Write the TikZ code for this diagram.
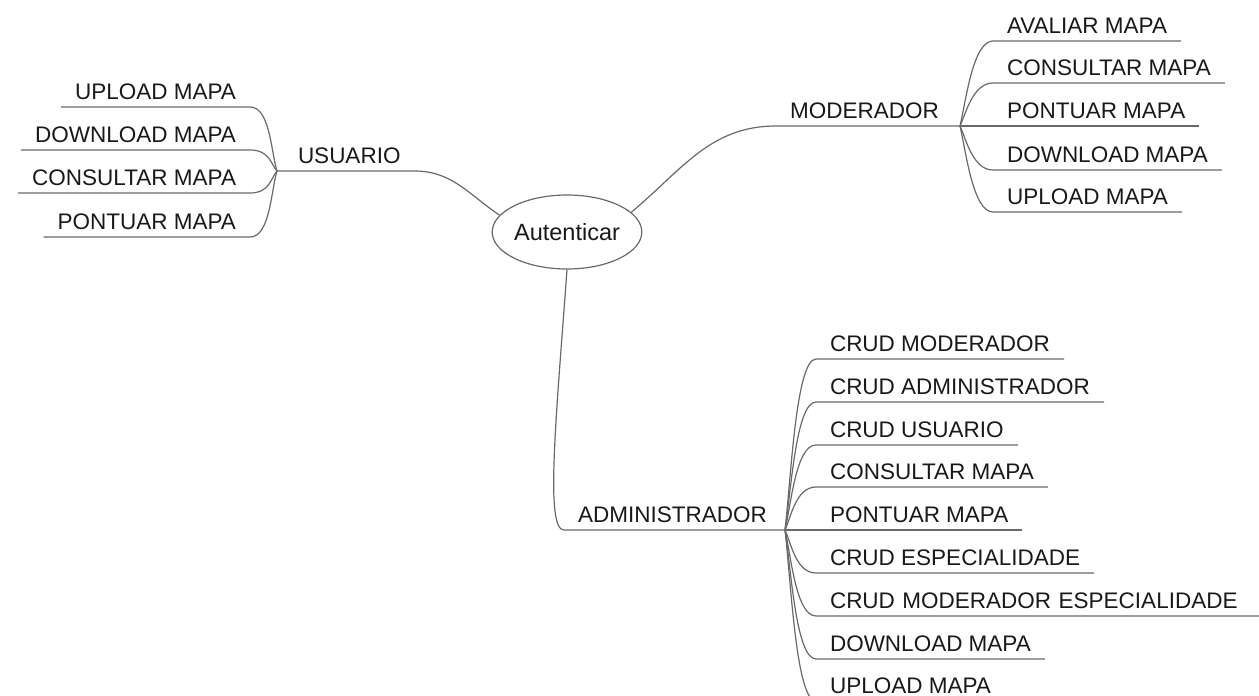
\documentclass[tikz,border=0pt]{standalone}
\usepackage{fontspec}
\setmainfont{Liberation Sans}
\usetikzlibrary{shapes.geometric,calc}
\definecolor{edgegray}{RGB}{105,105,105}
\definecolor{inkdark}{RGB}{25,25,25}
\tikzset{
  txt/.style={font=\fontsize{22.5}{27}\selectfont, text=inkdark},
  leaf/.style={txt, inner xsep=14pt, inner ysep=7.5pt, text depth=0pt, outer sep=0pt},
  link/.style={draw=edgegray, line width=1.2pt},
  rbranch/.style={to path={.. controls ($(\tikztostart)!0.3!(\tikztostart|-\tikztotarget)+(6,0)$) and ($(\tikztotarget)+(-20,0)$) .. (\tikztotarget)}},
  lbranch/.style={to path={.. controls ($(\tikztostart)!0.3!(\tikztostart|-\tikztotarget)+(-6,0)$) and ($(\tikztotarget)+(20,0)$) .. (\tikztotarget)}},
}
\begin{document}
\begin{tikzpicture}[x=1pt,y=-1pt]
\clip (0,0) rectangle (1259,696);
\fill[white] (0,0) rectangle (1259,696);

% central topic
\node[txt, font=\fontsize{23.5}{28}\selectfont, ellipse, draw=edgegray, line width=1.2pt, minimum width=140pt, minimum height=74pt, inner sep=0pt] (auth) at (567,232) {Autenticar};

% main branches
\node[leaf, anchor=south west] (usuario) at (284,171) {USUARIO};
\coordinate (uj) at (277,171);
\node[leaf, anchor=south west] (moder) at (776,126) {MODERADOR};
\coordinate (mj) at (960,126);
\node[leaf, anchor=south west] (admin) at (564,530) {ADMINISTRADOR};
\coordinate (aj) at (785,530);

\draw[link] (auth.166) to[out=146,in=0] (usuario.south east) -- (usuario.south west) -- (uj);
\draw[link] (auth.17) to[out=40,in=180] (moder.south west) -- (moder.south east) -- (mj);
\draw[link] (auth.south) .. controls (556,420) and (545,530) .. (admin.south west) -- (admin.south east) -- (aj);

% USUARIO leaves
\node[leaf, anchor=south east] (u1) at (250,107) {UPLOAD MAPA};
\node[leaf, anchor=south east] (u2) at (250,150) {DOWNLOAD MAPA};
\node[leaf, anchor=south east] (u3) at (250,193) {CONSULTAR MAPA};
\node[leaf, anchor=south east] (u4) at (250,237) {PONTUAR MAPA};
\foreach \n in {u1,u2,u3,u4}
  \draw[link] (uj) to[lbranch] (\n.south east) -- (\n.south west);

% MODERADOR leaves
\node[leaf, anchor=south west] (m1) at (993,41) {AVALIAR MAPA};
\node[leaf, anchor=south west] (m2) at (993,83) {CONSULTAR MAPA};
\node[leaf, anchor=south west] (m3) at (993,126) {PONTUAR MAPA};
\node[leaf, anchor=south west] (m4) at (993,170) {DOWNLOAD MAPA};
\node[leaf, anchor=south west] (m5) at (993,212) {UPLOAD MAPA};
\foreach \n in {m1,m2,m3,m4,m5}
  \draw[link] (mj) to[rbranch] (\n.south west) -- (\n.south east);

% ADMINISTRADOR leaves
\node[leaf, anchor=south west] (a1) at (816,359) {CRUD MODERADOR};
\node[leaf, anchor=south west] (a2) at (816,402) {CRUD ADMINISTRADOR};
\node[leaf, anchor=south west] (a3) at (816,445) {CRUD USUARIO};
\node[leaf, anchor=south west] (a4) at (816,487) {CONSULTAR MAPA};
\node[leaf, anchor=south west] (a5) at (816,530) {PONTUAR MAPA};
\node[leaf, anchor=south west] (a6) at (816,573) {CRUD ESPECIALIDADE};
\node[leaf, anchor=south west, text width=415pt, align=left] (a7) at (816,616) {CRUD MODERADOR ESPECIALIDADE};
\node[leaf, anchor=south west] (a8) at (816,659) {DOWNLOAD MAPA};
\node[leaf, anchor=south west] (a9) at (816,701) {UPLOAD MAPA};
\foreach \n in {a1,a2,a3,a4,a5,a6,a7,a8,a9}
  \draw[link] (aj) to[rbranch] (\n.south west) -- (\n.south east);
\end{tikzpicture}
\end{document}
